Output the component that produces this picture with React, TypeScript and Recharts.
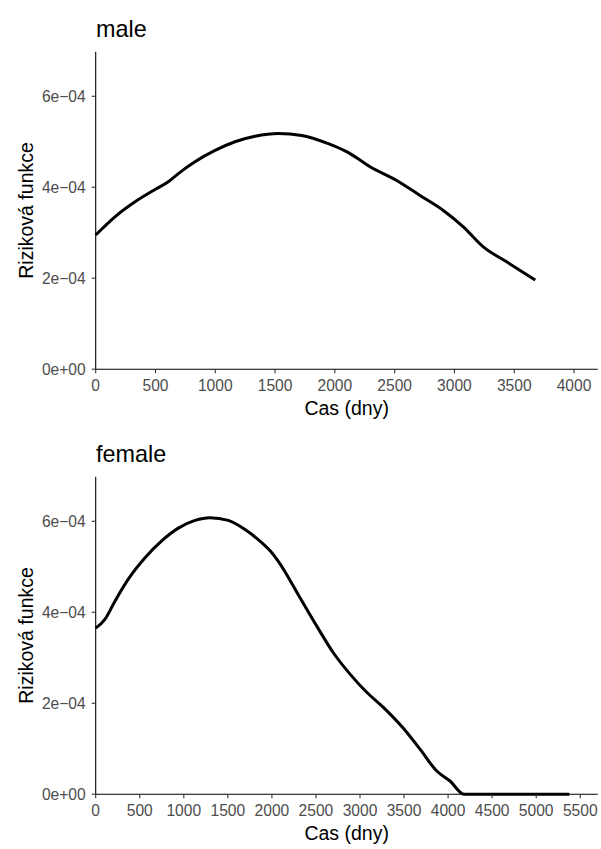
import { LineChart, Line, XAxis, YAxis, Label } from "recharts";

// values (hazard in units of 1e-4 per day)
const MALE_DAYS = [0, 161, 329, 496, 607, 691, 830, 998, 1165, 1332, 1527, 1723, 1945, 2085, 2127, 2294, 2517, 2712, 2907, 3074, 3241, 3437, 3676];
const MALE_HAZARD = [2.95, 3.35, 3.68, 3.95, 4.12, 4.3, 4.56, 4.81, 5.0, 5.12, 5.18, 5.14, 4.96, 4.8, 4.74, 4.45, 4.15, 3.82, 3.49, 3.13, 2.69, 2.36, 1.96];

const FEMALE_DAYS = [0, 106, 220, 370, 560, 749, 938, 1127, 1297, 1505, 1695, 1884, 1980, 2073, 2319, 2508, 2697, 2887, 3076, 3265, 3492, 3681, 3871, 4022, 4180, 5376];
const FEMALE_HAZARD = [3.65, 3.85, 4.25, 4.73, 5.2, 5.57, 5.85, 6.02, 6.08, 6.02, 5.82, 5.53, 5.35, 5.12, 4.32, 3.7, 3.11, 2.64, 2.24, 1.91, 1.45, 0.99, 0.51, 0.29, 0, 0];

const Y_TICKS = [0, 2e-4, 4e-4, 6e-4];
const MALE_X_TICKS = [0, 500, 1000, 1500, 2000, 2500, 3000, 3500, 4000];
const FEMALE_X_TICKS = [0, 500, 1000, 1500, 2000, 2500, 3000, 3500, 4000, 4500, 5000, 5500];

const FONT = '"Liberation Sans", Arial, Helvetica, sans-serif';
const W = 601;
const H = 424;
const TOP = 51.7;
const LEFT = 95.7;
const RIGHT = 3.3;
const X_AXIS_H = 54.8;
const PLOT_W = W - LEFT - RIGHT;
const PLOT_BOTTOM = H - X_AXIS_H;

const sci = (v: number) =>
  v === 0 ? "0e+00" : `${Math.round(v * 1e4)}e\u221204`;

const tickStyle = { fill: "#4d4d4d", fontSize: 15.6, fontFamily: FONT };

function Panel({
  title,
  days,
  hazard,
  xMax,
  xTicks,
  top,
}: {
  title: string;
  days: number[];
  hazard: number[];
  xMax: number;
  xTicks: number[];
  top: number;
}) {
  const data = days.map((d, i) => ({ day: d, hazard: hazard[i] * 1e-4 }));
  return (
    <div style={{ position: "absolute", left: 0, top, width: W, height: H }}>
      <LineChart
        width={W}
        height={H}
        data={data}
        margin={{ top: TOP, right: RIGHT, bottom: 0, left: 0 }}
      >
        <XAxis
          type="number"
          dataKey="day"
          domain={[0, xMax]}
          ticks={xTicks}
          interval={0}
          height={X_AXIS_H}
          tickSize={4}
          tickMargin={7}
          axisLine={{ stroke: "#000", strokeWidth: 1.1 }}
          tickLine={{ stroke: "#333", strokeWidth: 1.1 }}
          tick={tickStyle}
        >
          <Label
            content={() => (
              <text
                x={LEFT + PLOT_W / 2}
                y={PLOT_BOTTOM + 45.5}
                textAnchor="middle"
                fontSize={19.5}
                fontFamily={FONT}
                fill="#000"
              >
                Cas (dny)
              </text>
            )}
          />
        </XAxis>
        <YAxis
          type="number"
          domain={[0, 6.98e-4]}
          ticks={Y_TICKS}
          interval={0}
          width={LEFT}
          tickSize={4}
          tickMargin={6}
          tickFormatter={sci}
          axisLine={{ stroke: "#000", strokeWidth: 1.1 }}
          tickLine={{ stroke: "#333", strokeWidth: 1.1 }}
          tick={tickStyle}
        >
          <Label
            content={() => {
              const cy = (TOP + PLOT_BOTTOM) / 2;
              return (
                <text
                  x={33}
                  y={cy}
                  transform={`rotate(-90, 33, ${cy})`}
                  textAnchor="middle"
                  fontSize={19.5}
                  fontFamily={FONT}
                  fill="#000"
                >
                  Riziková funkce
                </text>
              );
            }}
          />
        </YAxis>
        <Line
          type="monotone"
          dataKey="hazard"
          stroke="#000"
          strokeWidth={3}
          dot={false}
          activeDot={false}
          isAnimationActive={false}
        />
      </LineChart>
      <svg
        width={200}
        height={45}
        style={{ position: "absolute", left: 0, top: 0, pointerEvents: "none" }}
      >
        <text x={96} y={36.7} fontSize={23.4} fontFamily={FONT} fill="#000">
          {title}
        </text>
      </svg>
    </div>
  );
}

export default function App() {
  return (
    <div
      style={{
        position: "absolute",
        left: 0,
        top: 0,
        width: W,
        height: 849,
        background: "#fff",
        overflow: "hidden",
      }}
    >
      <Panel
        title="male"
        days={MALE_DAYS}
        hazard={MALE_HAZARD}
        xMax={4198}
        xTicks={MALE_X_TICKS}
        top={0}
      />
      <Panel
        title="female"
        days={FEMALE_DAYS}
        hazard={FEMALE_HAZARD}
        xMax={5698}
        xTicks={FEMALE_X_TICKS}
        top={425}
      />
    </div>
  );
}
